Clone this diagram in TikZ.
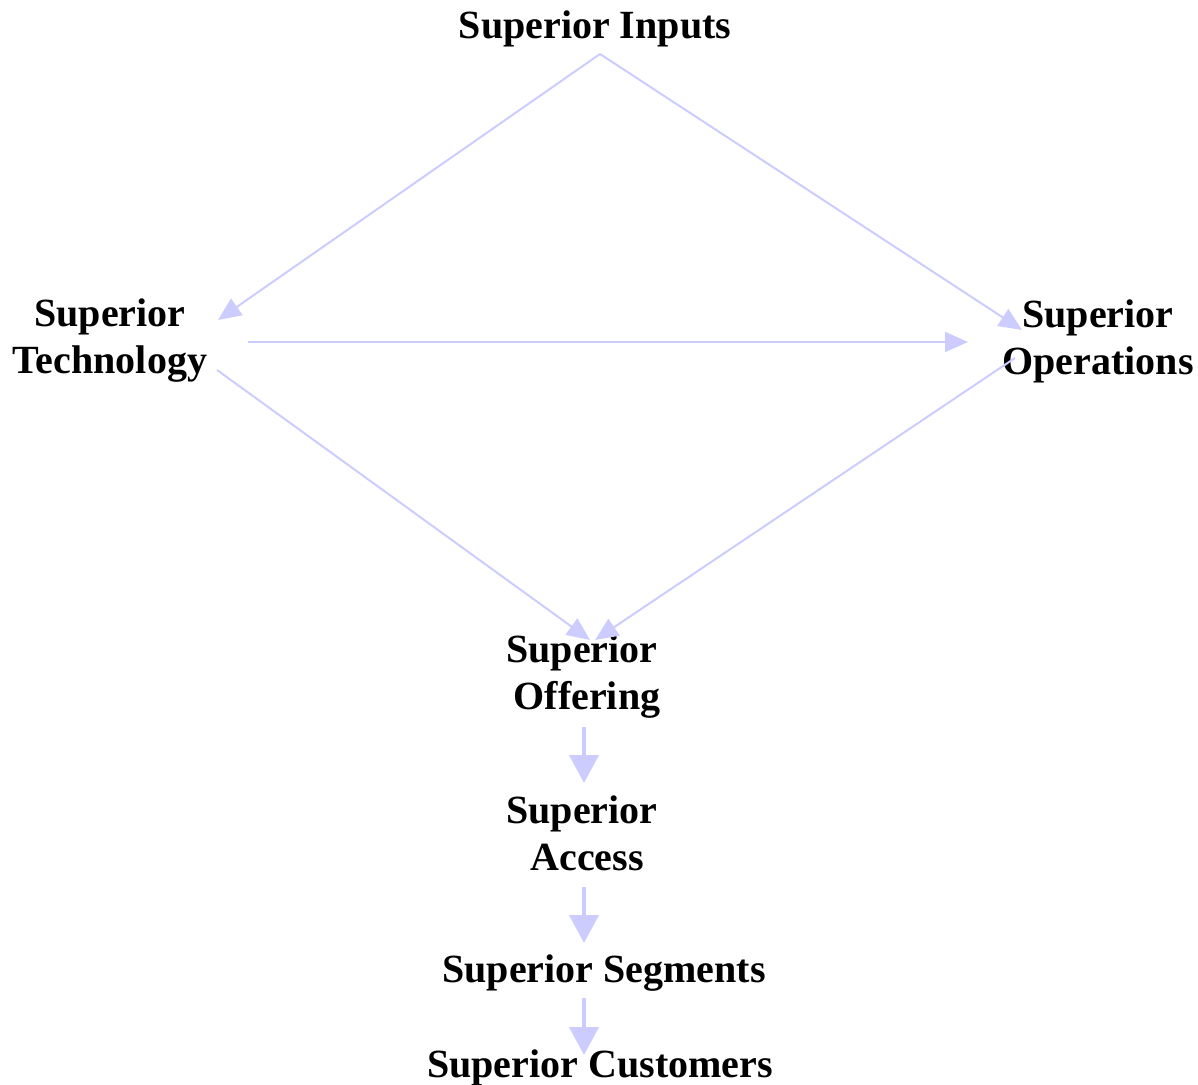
\documentclass[tikz,border=0pt]{standalone}
\usepackage{fontspec}
\setmainfont{Liberation Serif}
\usetikzlibrary{arrows.meta}
\definecolor{arr}{HTML}{CCCCFF}
\begin{document}
\begin{tikzpicture}[x=0.5pt,y=-0.5pt,
  lbl/.style={font=\fontsize{20}{23.5}\selectfont\bfseries, align=center, inner sep=0pt},
  thin/.style={draw=arr, line width=1pt, -{Triangle[length=11.5pt,width=10pt]}},
  thick/.style={draw=arr, line width=2.2pt, -{Triangle[length=14pt,width=14.5pt]}}]
\useasboundingbox (0,0) rectangle (1198,1085);
\node[lbl] (inputs) at (595,29) {Superior Inputs};
\node[lbl] (tech) at (110,341) {Superior\\Technology};
\node[lbl] (ops) at (1098,341) {Superior\\Operations};
\node[lbl] (offer) at (582,677) {Superior\\\ Offering};
\node[lbl] (access) at (582,833) {Superior\\\ Access};
\node[lbl] (seg) at (604,973) {Superior Segments};
\node[lbl] (cust) at (600,1068) {Superior Customers};
% connector end points
\coordinate (inS) at (600,54);
\coordinate (techIn) at (218,320);
\coordinate (opsIn) at (1022,330);
\coordinate (techR) at (248,342);
\coordinate (opsL) at (968,342);
\coordinate (techD) at (217,370);
\coordinate (offL) at (590,640);
\coordinate (opsD) at (1015,358);
\coordinate (offR) at (595,640);
\coordinate (offB) at (584,727);
\coordinate (accT) at (584,783);
\coordinate (accB) at (584,887);
\coordinate (segT) at (584,943);
\coordinate (segB) at (584,998);
\coordinate (custT) at (584,1055);
\draw[thin] (inS) -- (techIn);
\draw[thin] (inS) -- (opsIn);
\draw[thin] (techR) -- (opsL);
\draw[thin] (techD) -- (offL);
\draw[thin] (opsD) -- (offR);
\draw[thick] (offB) -- (accT);
\draw[thick] (accB) -- (segT);
\draw[thick] (segB) -- (custT);
\end{tikzpicture}
\end{document}
